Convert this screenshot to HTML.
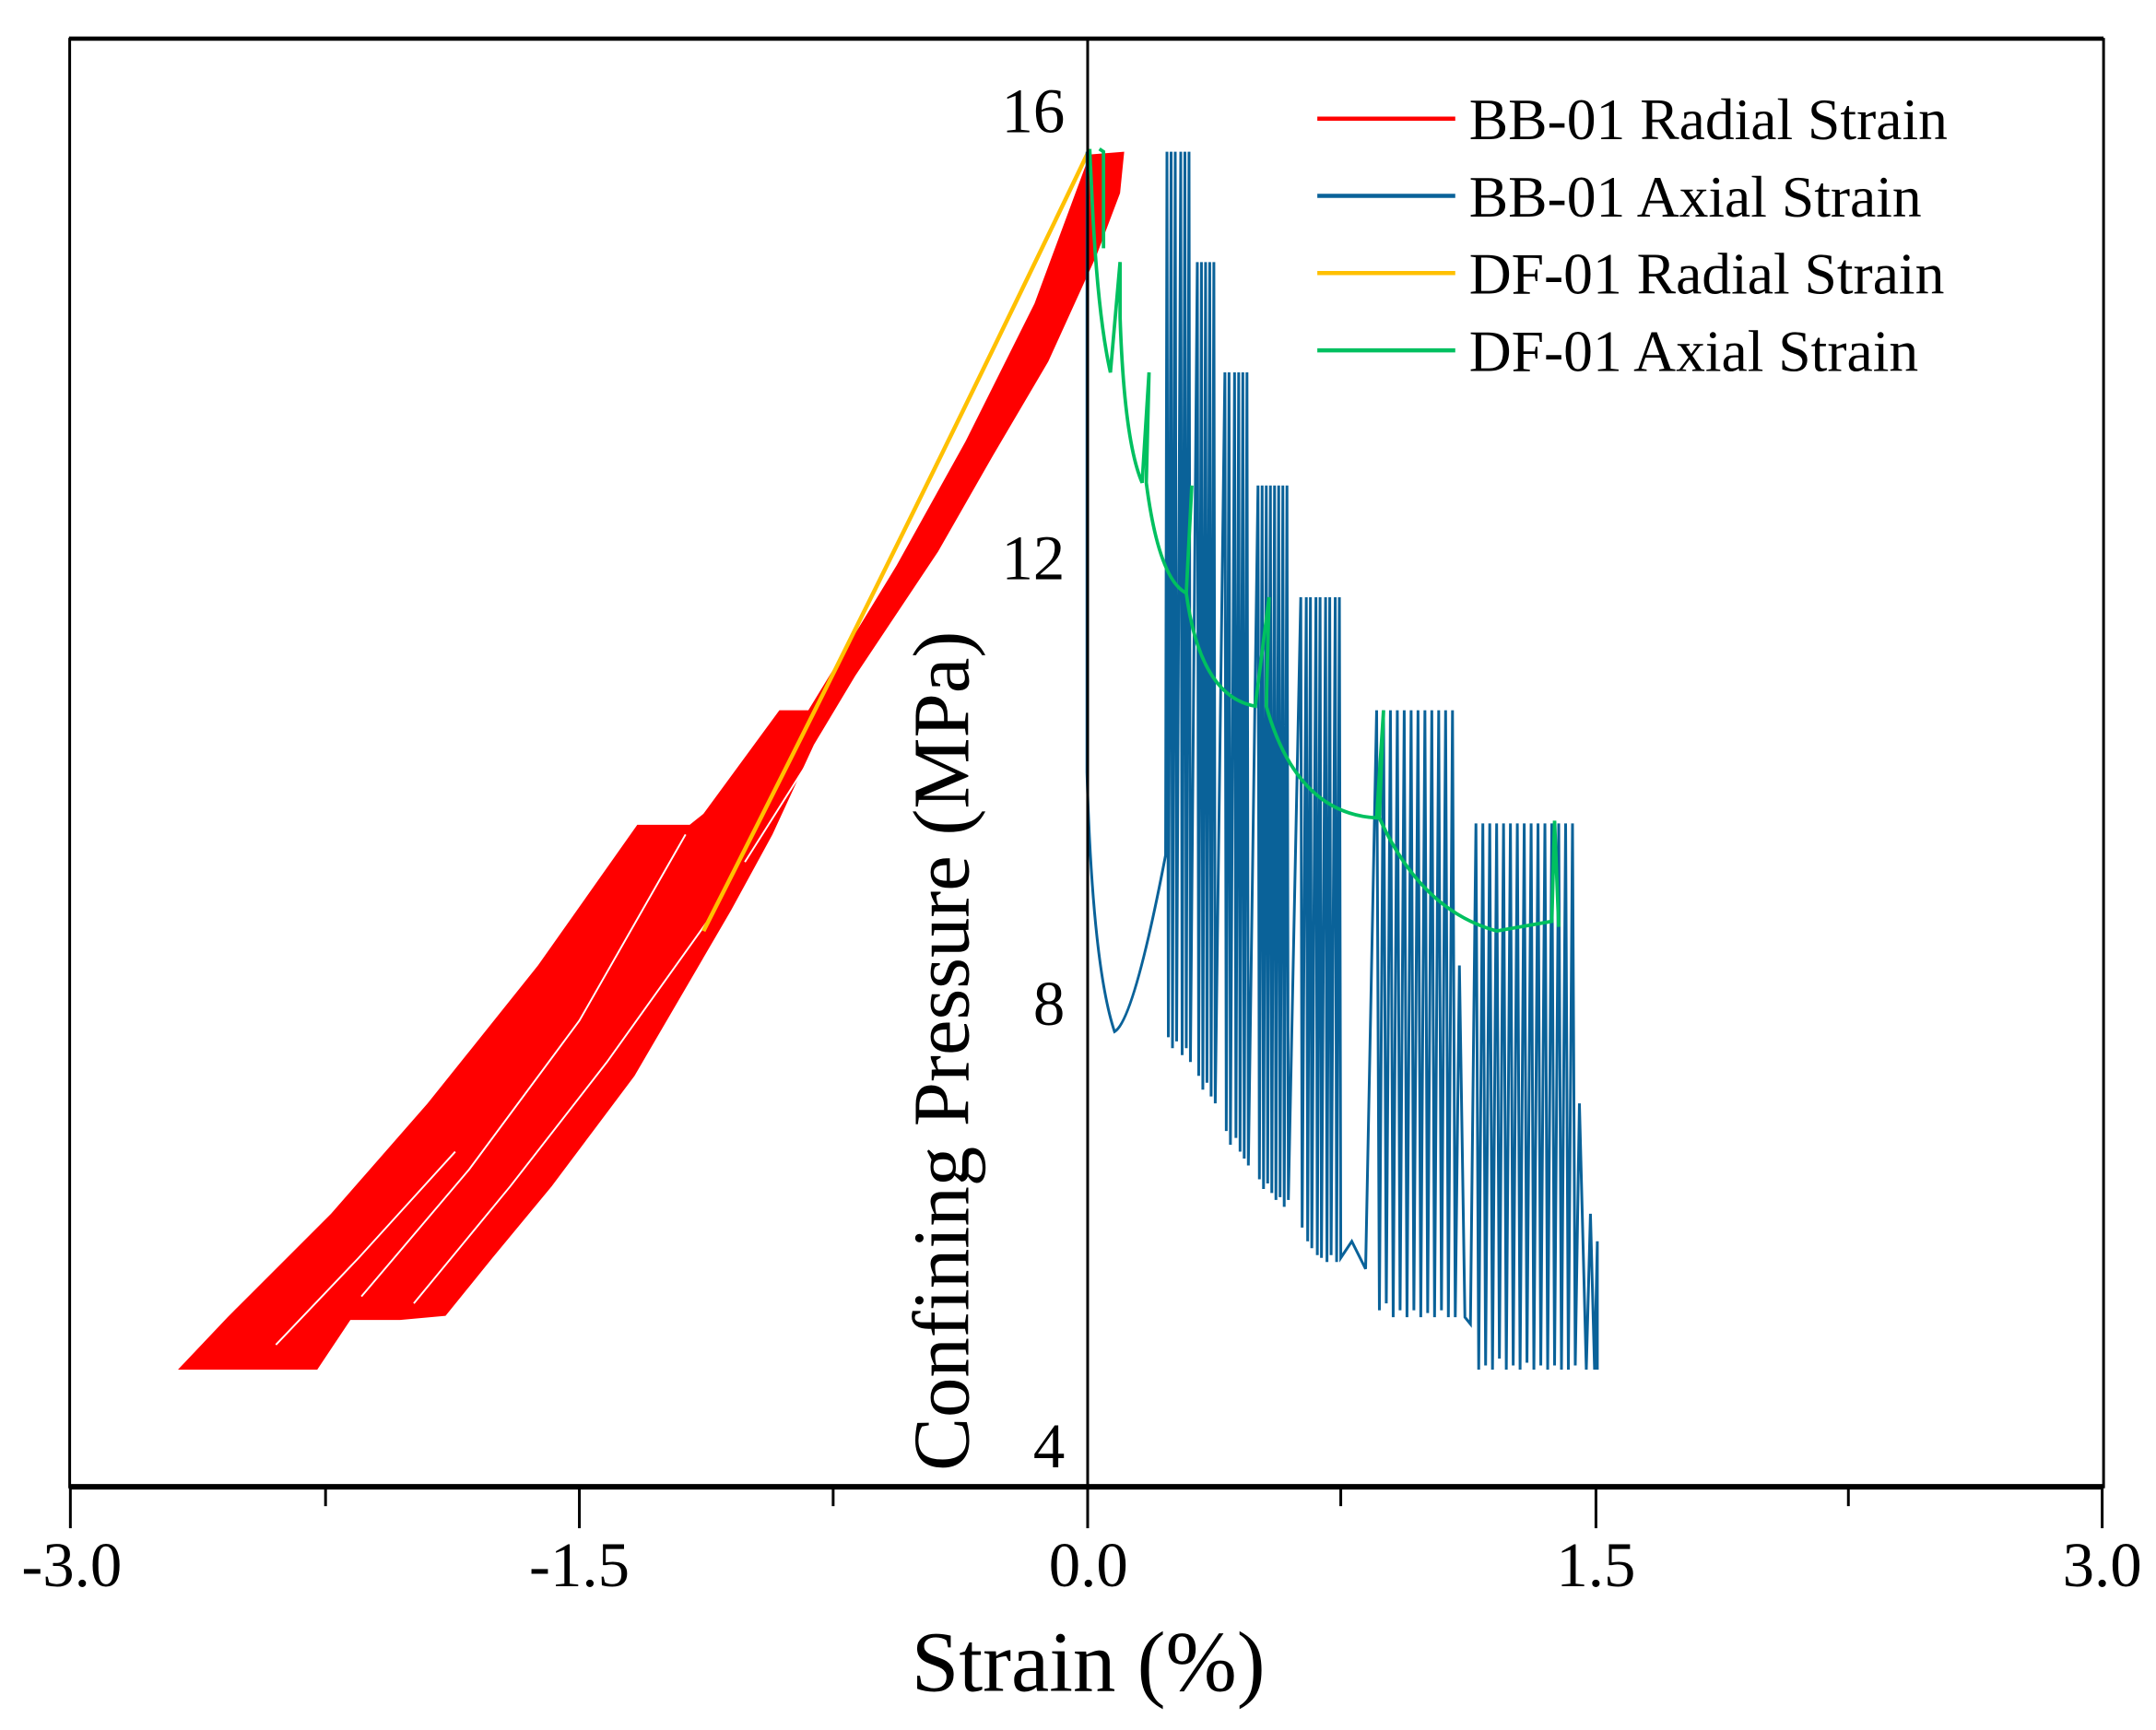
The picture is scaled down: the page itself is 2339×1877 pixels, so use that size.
<!DOCTYPE html>
<html><head><meta charset="utf-8"><style>html,body{margin:0;padding:0;background:#fff}svg{display:block}</style></head>
<body>
<svg width="2339" height="1877" viewBox="0 0 1563 1254.3" xmlns="http://www.w3.org/2000/svg" font-family="Liberation Serif, serif">
<rect width="1563" height="1254.3" fill="#fff"/>
<!-- red band envelope -->
<path fill="#ff0000" d="M129,993 L165,955 L240,880 L310,800 L390,700 L462,598 L500,598 L510,590 L565,515 L586,515 L650,410 L700,320 L750,220 L790,112 L815,110 L812,140 L795,185 L760,262 L720,330 L680,400 L620,490 L590,540 L560,605 L530,660 L495,720 L460,780 L430,820 L400,860 L357,912 L323,954 L290,957 L254,957 L230,993 Z"/>
<!-- white gaps to suggest loops -->
<g fill="none" stroke="#fff" stroke-width="1.3">
<path d="M262,940 L340,848 L420,740 L497,605"/>
<path d="M200,975 L260,912 L330,835"/>
<path d="M300,945 L370,860 L440,770 L515,665"/>
<path d="M540,625 L600,530"/>
</g>
<!-- orange -->
<path d="M510,675 Q650,400 790,108" fill="none" stroke="#ffc000" stroke-width="3"/>
<!-- blue -->
<path fill="none" stroke="#0a6299" stroke-width="2" d="M788,110 L788,560 Q792,700 808,748 Q822,740 845,620 L846,110 L847,752 L849,110 L850,760 L852,110 L853,755 L856,110 L857,765 L859,110 L860,760 L862,110 L863,770 L868,190 L869,780 L871,190 L872,790 L874,190 L875,785 L877,190 L878,795 L880,190 L881,800 L888,270 L889,820 L891,270 L892,830 L895,270 L896,825 L898,270 L899,835 L901,270 L902,840 L904,270 L905,845 L912,352 L913,855 L915,352 L916,862 L918,352 L919,858 L921,352 L922,865 L924,352 L925,870 L927,352 L928,868 L930,352 L931,875 L933,352 L934,870 L943,433 L944,890 L947,433 L948,900 L950,433 L951,905 L954,433 L955,910 L957,433 L958,912 L961,433 L962,915 L964,433 L965,910 L968,433 L969,915 L971,433 L972,912 L980,900 L990,920 L998,515 L1000,950 L1003,515 L1005,945 L1008,515 L1010,955 L1013,515 L1015,950 L1018,515 L1020,955 L1023,515 L1025,950 L1028,515 L1030,955 L1033,515 L1035,952 L1038,515 L1040,955 L1043,515 L1045,950 L1048,515 L1050,955 L1053,515 L1055,955 L1058,700 L1062,955 L1066,960 L1070,597 L1072,993 L1075,597 L1077,990 L1080,597 L1082,993 L1085,597 L1087,985 L1090,597 L1092,993 L1095,597 L1097,990 L1100,597 L1102,993 L1105,597 L1107,988 L1110,597 L1112,993 L1115,597 L1117,990 L1120,597 L1122,993 L1125,597 L1127,990 L1130,597 L1132,993 L1135,597 L1137,993 L1140,597 L1142,990 L1145,800 L1150,993 L1153,880 L1156,993 L1158,900 L1158,993"/>
<!-- green -->
<path fill="none" stroke="#00c060" stroke-width="2.5" d="M790,108 L792,150 Q796,230 805,270 L812,190 L812,230 Q815,320 828,350 L833,270 L831,350 Q840,420 860,430 L864,352 L860,430 Q870,505 910,512 L920,433 L918,512 Q940,590 998,593 L1003,515 L1000,593 Q1030,660 1085,675 L1125,668 L1127,595 L1130,672"/>
<path fill="none" stroke="#00c060" stroke-width="2.5" d="M797,108 L800,110 L800,180"/>
<!-- axes -->
<rect x="50.5" y="28.5" width="1474.5" height="1049.5" fill="none" stroke="#000" stroke-width="2"/>
<line x1="50" y1="1078" x2="1525" y2="1078" stroke="#000" stroke-width="4"/>
<line x1="50" y1="28" x2="1525" y2="28" stroke="#000" stroke-width="3"/>
<line x1="788.5" y1="28" x2="788.5" y2="1078" stroke="#000" stroke-width="2"/>
<g stroke="#000" stroke-width="2">
<line x1="51" y1="1078" x2="51" y2="1108"/><line x1="420" y1="1078" x2="420" y2="1108"/><line x1="788.5" y1="1078" x2="788.5" y2="1108"/><line x1="1157" y1="1078" x2="1157" y2="1108"/><line x1="1524" y1="1078" x2="1524" y2="1108"/>
<line x1="236" y1="1078" x2="236" y2="1092"/><line x1="604" y1="1078" x2="604" y2="1092"/><line x1="972" y1="1078" x2="972" y2="1092"/><line x1="1340" y1="1078" x2="1340" y2="1092"/>
</g>
<g font-size="46" text-anchor="middle" fill="#000">
<text x="52" y="1150">-3.0</text><text x="420" y="1150">-1.5</text><text x="789" y="1150">0.0</text><text x="1157" y="1150">1.5</text><text x="1524" y="1150">3.0</text>
</g>
<g font-size="46" text-anchor="end" fill="#000">
<text x="772" y="96">16</text><text x="772" y="420">12</text><text x="772" y="743">8</text><text x="772" y="1064">4</text>
</g>
<text x="789" y="1226" font-size="62" text-anchor="middle">Strain (%)</text>
<text transform="translate(702,762) rotate(-90)" font-size="58" text-anchor="middle">Confining Pressure (MPa)</text>
<!-- legend -->
<g stroke-width="3">
<line x1="955" y1="86" x2="1055" y2="86" stroke="#ff0000"/>
<line x1="955" y1="142" x2="1055" y2="142" stroke="#0a6299"/>
<line x1="955" y1="198" x2="1055" y2="198" stroke="#ffc000"/>
<line x1="955" y1="254" x2="1055" y2="254" stroke="#00c060"/>
</g>
<g font-size="42.5" fill="#000">
<text x="1065" y="101">BB-01 Radial Strain</text>
<text x="1065" y="157">BB-01 Axial Strain</text>
<text x="1065" y="213">DF-01 Radial Strain</text>
<text x="1065" y="269">DF-01 Axial Strain</text>
</g>
</svg>
</body></html>
